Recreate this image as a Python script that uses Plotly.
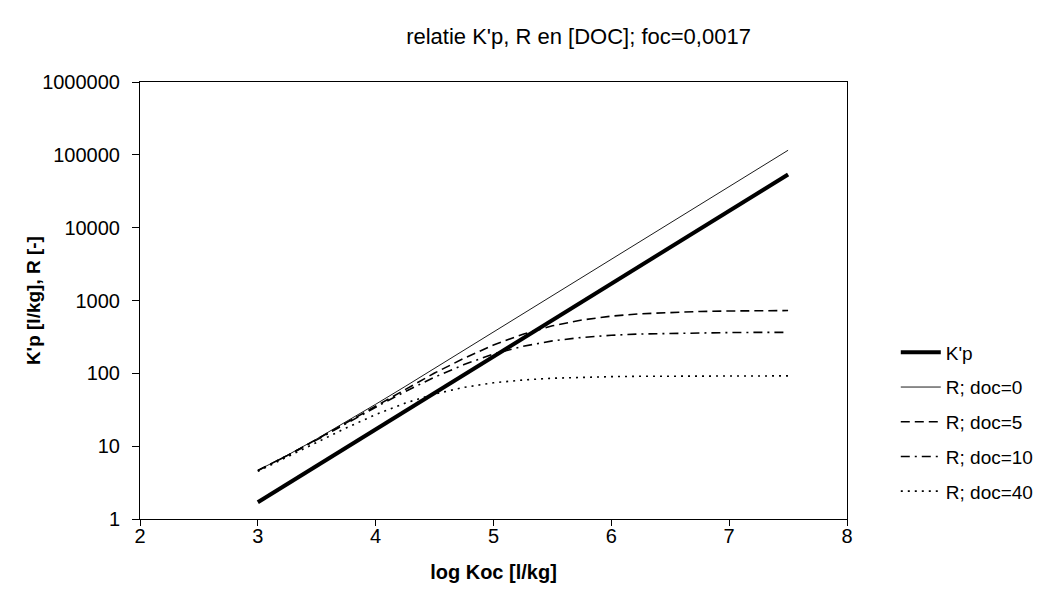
import plotly.graph_objects as go

log_koc = [3.0, 3.25, 3.5, 3.75, 4.0, 4.25, 4.5, 4.75, 5.0, 5.25, 5.5, 5.75,
           6.0, 6.25, 6.5, 6.75, 7.0, 7.25, 7.5]

kp = [1.7, 3.02, 5.38, 9.56, 17.0, 30.2, 53.8, 95.6, 170, 302, 538, 956,
      1700, 3020, 5380, 9560, 17000, 30200, 53800]

r_doc0 = [4.66, 7.5, 12.6, 21.6, 37.6, 66, 117, 207, 367, 650, 1160, 2060,
          3660, 6500, 11600, 20600, 36600, 65000, 115600]

r_doc5 = [4.64, 7.44, 12.4, 21.0, 35.8, 60.7, 101, 161, 245, 345, 449, 540,
          610, 658, 689, 707, 718, 724, 728]

r_doc10 = [4.62, 7.39, 12.2, 20.5, 34.2, 56.2, 88.8, 132, 184, 235, 279, 311,
           333, 347, 355, 360, 363, 365, 365]

r_doc40 = [4.51, 7.07, 11.3, 17.8, 27.1, 39.0, 52.0, 64.2, 74.1, 81.0, 85.7, 88.5,
           90.1, 91.1, 91.7, 92.0, 92.2, 92.3, 92.3]

series = [
    ("K'p", kp, dict(color="black", width=4, dash="solid")),
    ("R; doc=0", r_doc0, dict(color="black", width=0.9, dash="solid")),
    ("R; doc=5", r_doc5, dict(color="black", width=1.6, dash="9px,5px")),
    ("R; doc=10", r_doc10, dict(color="black", width=1.6, dash="9px,5px,2px,5px")),
    ("R; doc=40", r_doc40, dict(color="black", width=1.6, dash="2px,5px")),
]

fig = go.Figure()
for i, (name, vals, line) in enumerate(series):
    fig.add_trace(go.Scatter(x=log_koc, y=vals, mode="lines", name=name, line=line,
                             legendgroup=f"g{i}"))

font_family = "Liberation Sans, Arial, sans-serif"

fig.update_layout(
    width=1043, height=592,
    paper_bgcolor="white", plot_bgcolor="white",
    margin=dict(l=132, r=200, t=74, b=81),
    font=dict(family=font_family, size=19, color="black"),
    title=dict(text="relatie K'p, R en [DOC]; foc=0,0017", x=0.547, xanchor="center",
               y=0.953, yanchor="middle", font=dict(size=22, family=font_family, color="black")),
    legend=dict(x=1.069, xanchor="left", y=0.222, yanchor="middle",
                font=dict(size=19), bgcolor="rgba(0,0,0,0)", tracegroupgap=7,
                itemwidth=40),
    showlegend=True,
)

fig.add_annotation(
    text="<b>K'p [l/kg], R [-]</b>", textangle=-90,
    xref="paper", yref="paper", x=(25 - 132) / 711, y=0.5,
    xanchor="center", yanchor="middle", showarrow=False,
    font=dict(size=19, family=font_family, color="black"),
)

fig.update_xaxes(
    range=[2, 8], dtick=1, tick0=2,
    showgrid=False, zeroline=False,
    showline=True, linecolor="black", linewidth=1, mirror=True,
    ticks="outside", ticklen=6, tickcolor="black",
    tickfont=dict(size=20), ticklabelstandoff=-7,
    title=dict(text="<b>log Koc [l/kg]</b>", font=dict(size=20), standoff=18),
)
fig.update_yaxes(
    type="log", range=[0, 6], dtick=1,
    tickvals=[1, 10, 100, 1000, 10000, 100000, 1000000],
    ticktext=["1", "10", "100", "1000", "10000", "100000", "1000000"],
    showgrid=False, zeroline=False,
    showline=True, linecolor="black", linewidth=1, mirror=True,
    ticks="outside", ticklen=7, tickcolor="black",
    tickfont=dict(size=20), ticklabelstandoff=8,
)

fig.write_html("out.html")
